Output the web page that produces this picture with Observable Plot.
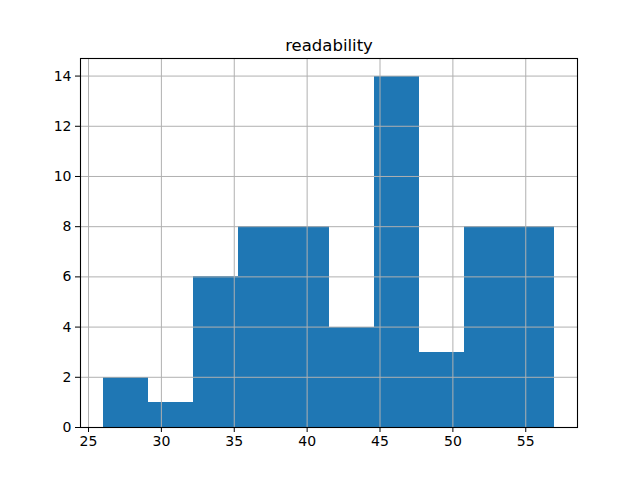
<!DOCTYPE html>
<html>
<head>
<meta charset="utf-8">
<script src="https://cdn.jsdelivr.net/npm/d3@7"></script>
<script src="https://cdn.jsdelivr.net/npm/@observablehq/plot@0.6"></script>
<style>
  html, body { margin: 0; padding: 0; background: #fff; }
</style>
</head>
<body>
<div id="chart"></div>
<script>
const title = "readability";
const binEdges = [26, 29.1, 32.2, 35.3, 38.4, 41.5, 44.6, 47.7, 50.8, 53.9, 57];
const counts = [2, 1, 6, 8, 8, 4, 14, 3, 8, 8];
const xTicks = [25, 30, 35, 40, 45, 50, 55];
const yTicks = [0, 2, 4, 6, 8, 10, 12, 14];

const bins = counts.map((c, i) => ({x1: binEdges[i], x2: binEdges[i + 1], y: c}));
const span = binEdges[binEdges.length - 1] - binEdges[0];
const xDomain = [binEdges[0] - span * 0.05, binEdges[binEdges.length - 1] + span * 0.05];
const yDomain = [0, d3.max(counts) * 1.05];

const font = "DejaVu Sans, sans-serif";

const chart = Plot.plot({
  width: 640,
  height: 480,
  marginLeft: 80,
  marginRight: 63,
  marginTop: 58,
  marginBottom: 53,
  style: {fontFamily: font, fontSize: "14px", color: "#000", background: "#fff"},
  x: {domain: xDomain},
  y: {domain: yDomain},
  marks: [
    Plot.rectY(bins, {x1: "x1", x2: "x2", y1: 0, y2: "y", fill: "#1f77b4", inset: 0, shapeRendering: "crispEdges"}),
    Plot.gridX(xTicks, {stroke: "#b0b0b0", strokeOpacity: 1, strokeWidth: 1}),
    Plot.gridY(yTicks, {stroke: "#b0b0b0", strokeOpacity: 1, strokeWidth: 1}),
    Plot.axisX(xTicks, {tickSize: 5, tickPadding: 4, label: null, fontSize: 14, stroke: "#000"}),
    Plot.axisY(yTicks, {tickSize: 5, tickPadding: 4, label: null, fontSize: 14, stroke: "#000"}),
    Plot.frame({stroke: "#000", strokeWidth: 1.1}),
    Plot.text([title], {frameAnchor: "top", lineAnchor: "bottom", dy: -8, fontSize: 16.5, fill: "#000"})
  ]
});
document.getElementById("chart").appendChild(chart);
</script>
</body>
</html>
